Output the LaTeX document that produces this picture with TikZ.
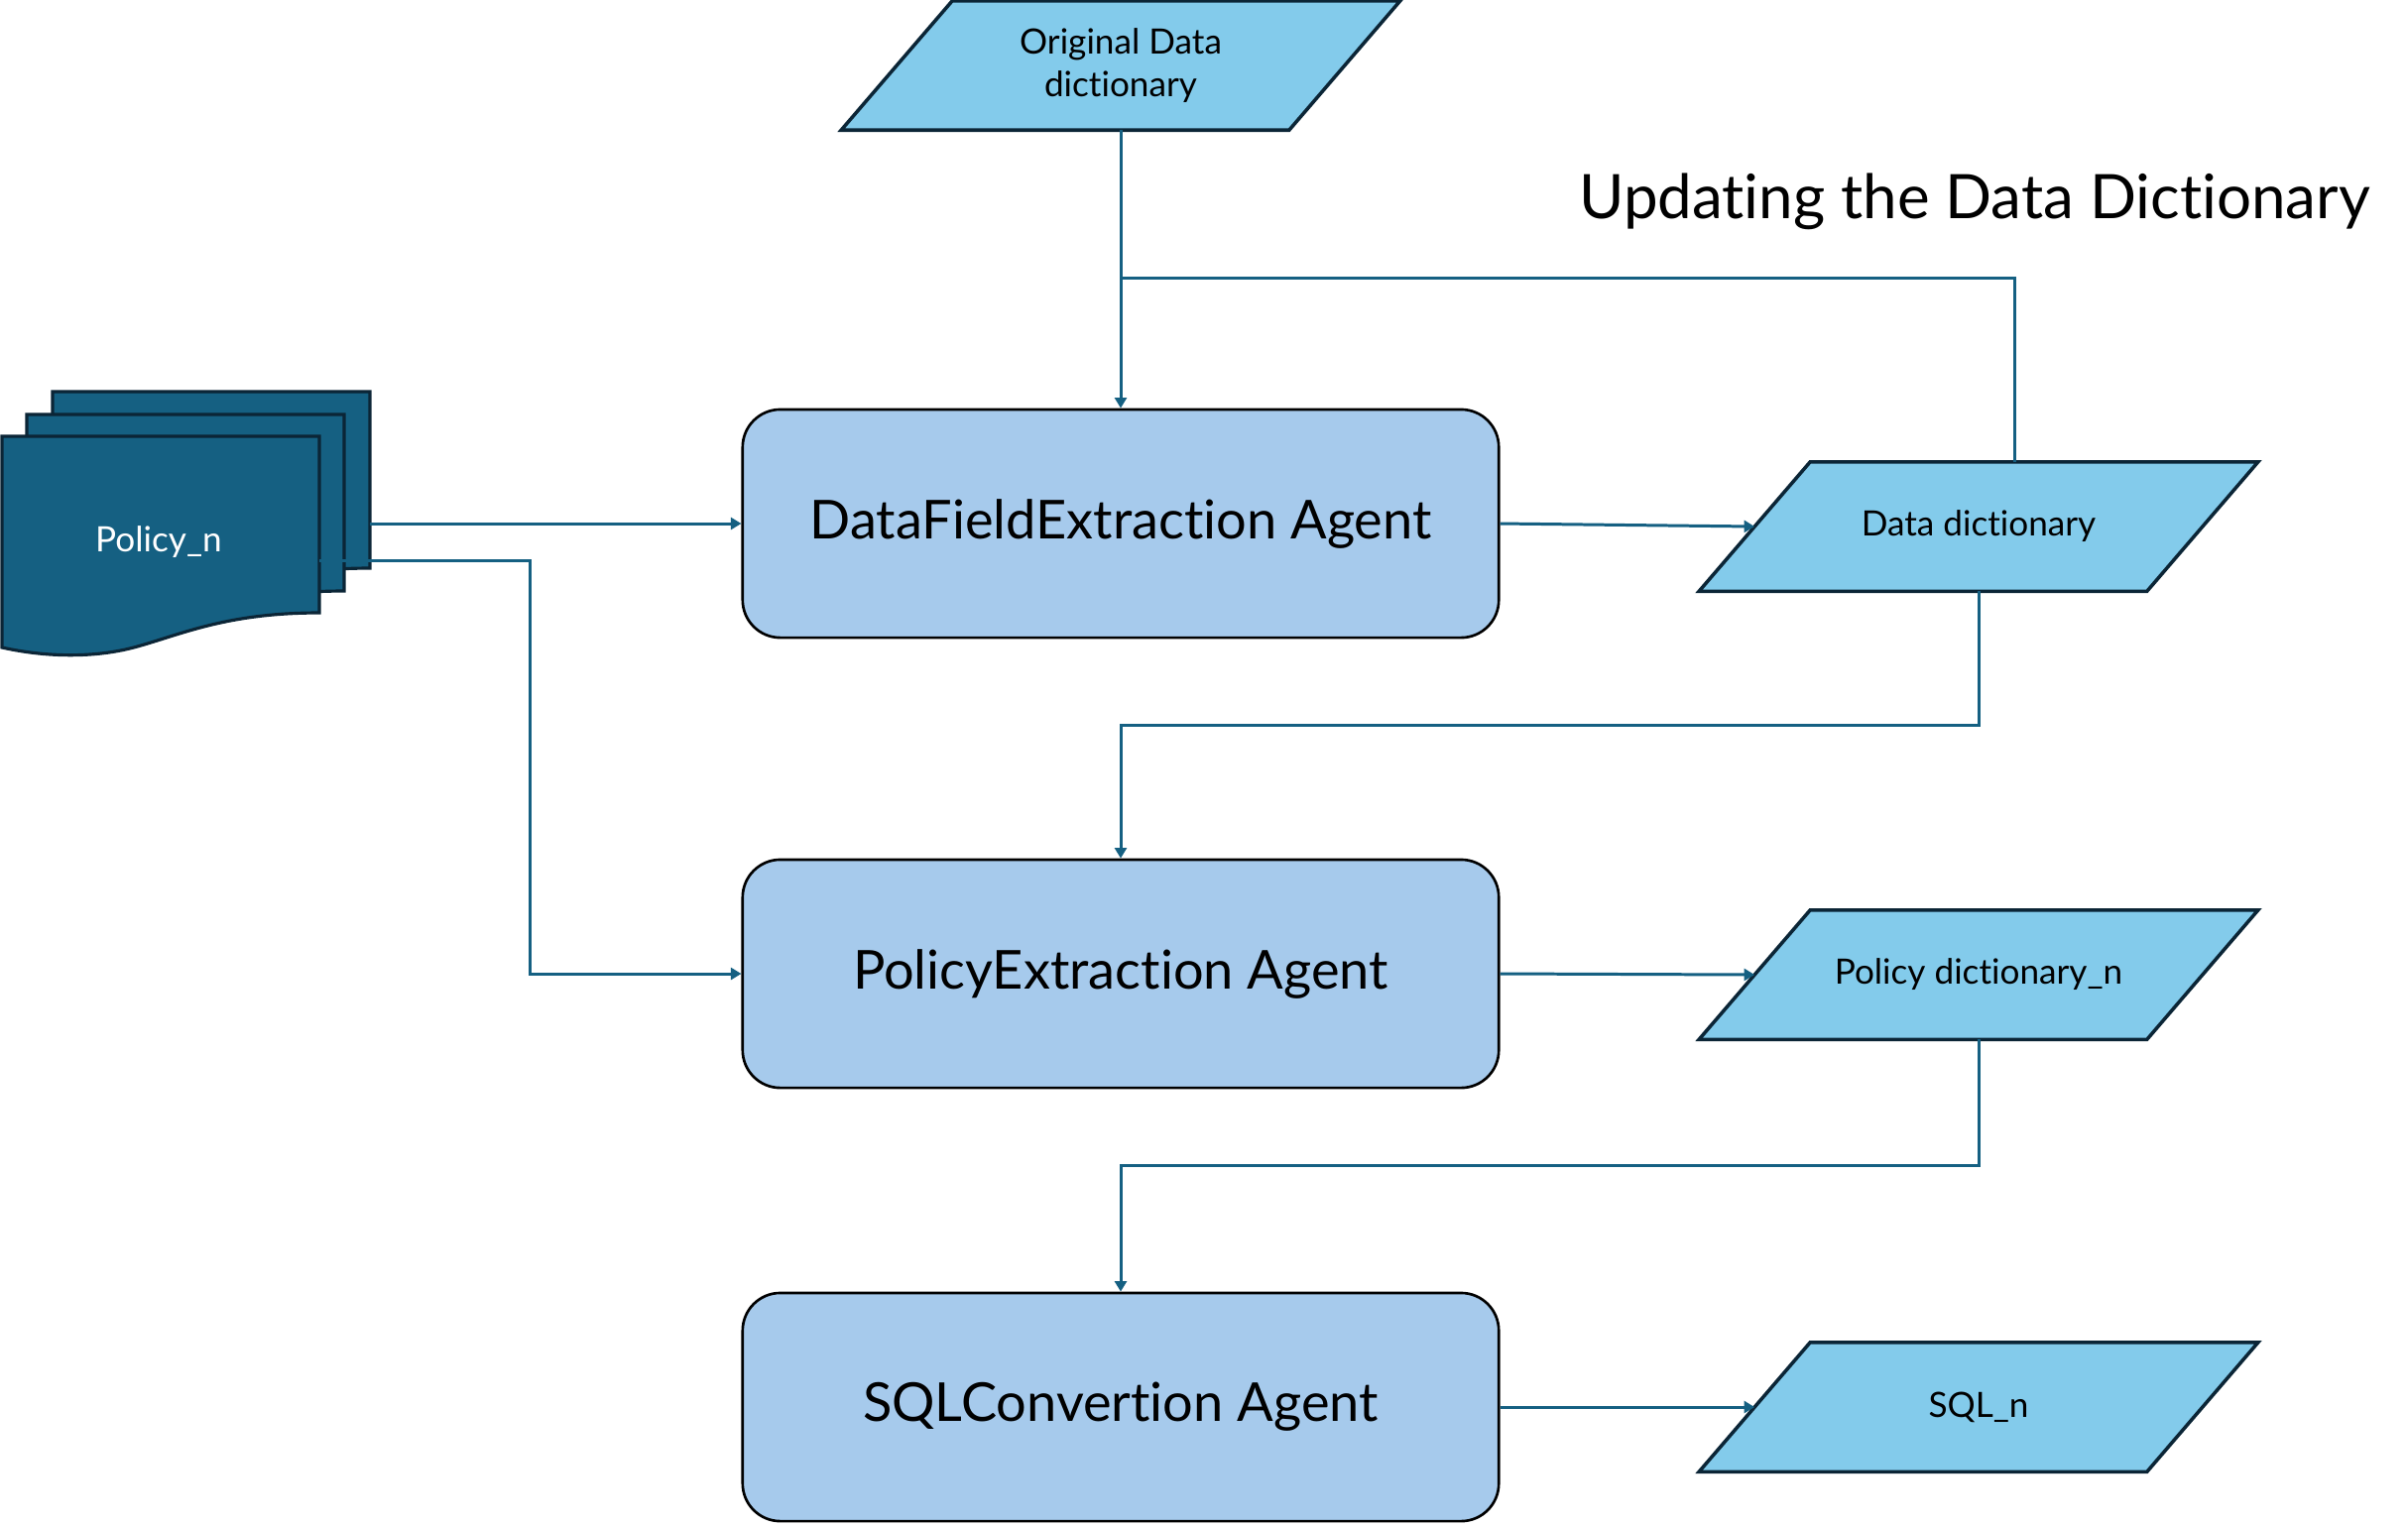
\documentclass[tikz,border=0pt]{standalone}
\usepackage{fontspec}
\setmainfont{Lato}[Ligatures={NoCommon,NoRare}]
\usetikzlibrary{arrows.meta}
\definecolor{parafill}{HTML}{83CBEB}
\definecolor{paradraw}{HTML}{0B2536}
\definecolor{boxfill}{HTML}{A6CAEC}
\definecolor{docfill}{HTML}{156082}
\definecolor{docdraw}{HTML}{0B2536}
\definecolor{linkcol}{HTML}{156082}
\newcommand\drawpara[1]{%
  \fill[parafill] ([xshift=-0.56cm]#1.south west) -- ([xshift=-0.56cm]#1.south east) -- ([xshift=0.56cm]#1.north east) -- ([xshift=0.56cm]#1.north west) -- cycle;
  \draw[paradraw,line width=1pt,line join=miter] ([xshift=-0.56cm]#1.south west) -- ([xshift=-0.56cm]#1.south east) -- ([xshift=0.56cm]#1.north east) -- ([xshift=0.56cm]#1.north west) -- cycle;}
\newcommand\docpath{(0,0) -- (320,0) -- (320,178) .. controls (230,178) and (185,198) .. (140,211) .. controls (100,223) and (50,224) .. (0,213) -- cycle}
\begin{document}
\begin{tikzpicture}[x=0.01cm,y=-0.01cm,
  agent/.style={draw=black,line width=0.75pt,fill=boxfill,rounded corners=0.38cm,minimum width=7.62cm,minimum height=2.30cm,font=\fontsize{15.4}{18}\selectfont},
  iobox/.style={minimum width=4.5cm,minimum height=1.29cm,inner sep=0pt},
  iotext/.style={font=\fontsize{10}{12.3}\selectfont,align=center},
  docshape/.style={fill=docfill,draw=docdraw,line width=0.9pt},
  link/.style={draw=linkcol,line width=0.85pt,-{Triangle[length=3pt,width=3.4pt]}},
  plain/.style={draw=linkcol,line width=0.85pt}]
\useasboundingbox (0,0) rectangle (2428,1538);
% documents
\begin{scope}[shift={(53,395)}] \draw[docshape] \docpath; \end{scope}
\begin{scope}[shift={(27,418)}] \draw[docshape] \docpath; \end{scope}
\begin{scope}[shift={(2,440)}] \draw[docshape] \docpath; \end{scope}
\node[text=white,font=\fontsize{10}{12}\selectfont] (pol) at (160,547) {Policy\_n};
\coordinate (docA) at (373,528);
\coordinate (docB) at (322,565);
% agents
\node[agent] (dfe) at (1130,528) {DataFieldExtraction Agent};
\node[agent] (pe) at (1130,982) {PolicyExtraction Agent};
\node[agent] (sql) at (1130,1419) {SQLConvertion Agent};
% io shapes
\node[iobox] (odd) at (1130,66) {};
\drawpara{odd}
\node[iotext] (odd-t) at (1130,66) {Original Data\\dictionary};
\node[iobox] (dd) at (1995,531) {};
\drawpara{dd}
\node[iotext] (dd-t) at (dd) {Data dictionary};
\node[iobox] (pd) at (1995,983) {};
\drawpara{pd}
\node[iotext] (pd-t) at (pd) {Policy dictionary\_n};
\node[iobox] (sqln) at (1995,1419) {};
\drawpara{sqln}
\node[iotext] (sqln-t) at (sqln) {SQL\_n};
% title
\node[font=\fontsize{17.6}{21}\selectfont] (title) at (1991,203) {Updating the Data Dictionary};
% connectors
\coordinate (join) at (1130,280);
\draw[link] (odd.south) -- (dfe.north);
\draw[plain] ([xshift=0.36cm]dd.north) |- (join);
\draw[link] (dfe.east) -- (dd.west);
\draw[link] (dd.south) -- ++(0,135) -| (pe.north);
\draw[link] (pe.east) -- (pd.west);
\draw[link] (pd.south) -- ++(0,127) -| (sql.north);
\draw[link] (sql.east) -- (sqln.west);
\draw[link] (docA) -- (dfe.west);
\draw[link] (docB) -- ++(212,0) |- (pe.west);
\end{tikzpicture}
\end{document}
